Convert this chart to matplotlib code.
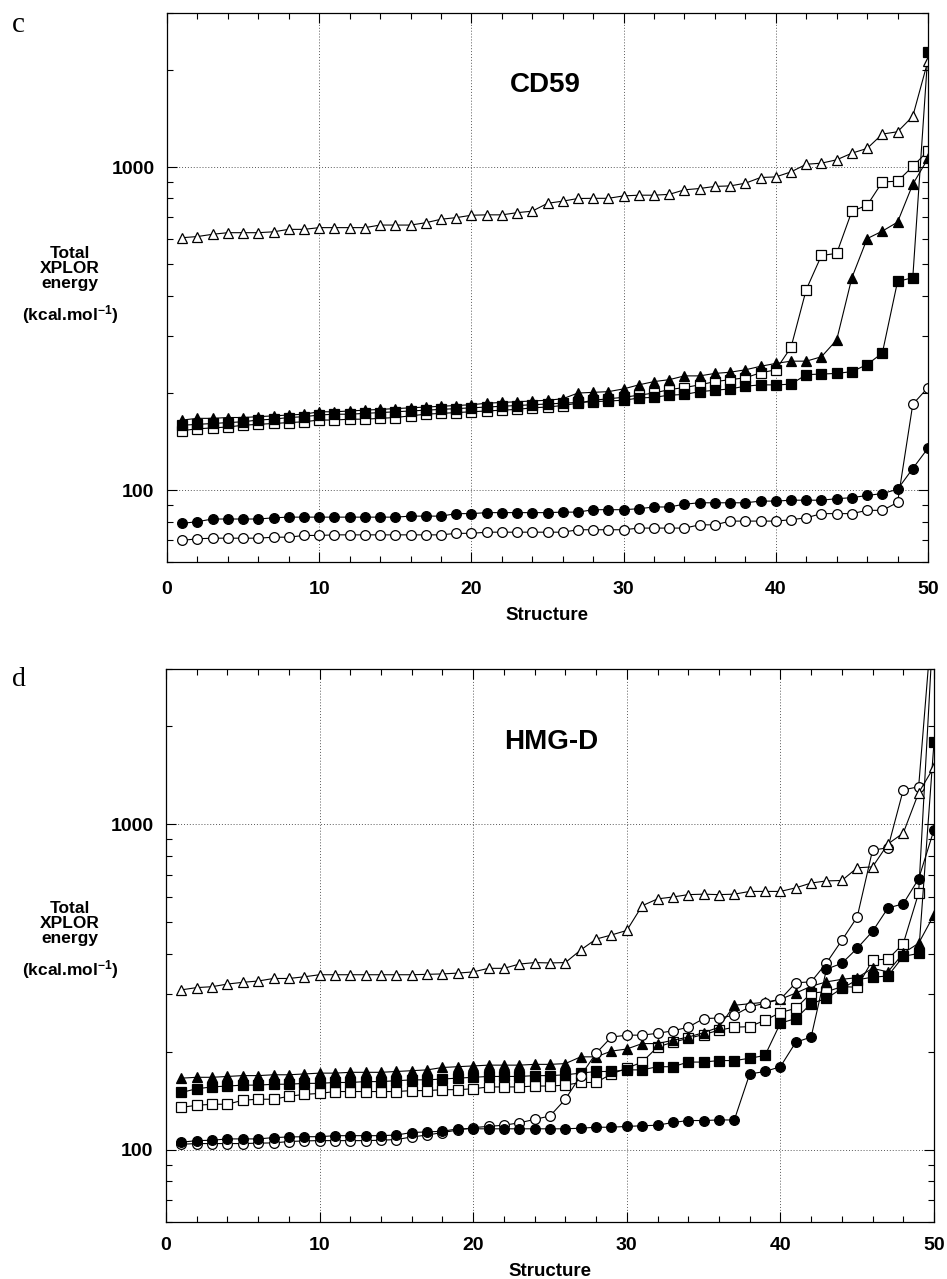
import numpy as np
import matplotlib
matplotlib.use('Agg')
import matplotlib.pyplot as plt
from matplotlib.ticker import FixedLocator, LogLocator, NullFormatter, FixedFormatter

plt.rcParams['font.family'] = ['Liberation Sans', 'DejaVu Sans']
plt.rcParams['font.weight'] = 'bold'
plt.rcParams['mathtext.fontset'] = 'custom'
plt.rcParams['mathtext.rm'] = 'Liberation Sans:bold'
plt.rcParams['mathtext.it'] = 'Liberation Sans:bold'

structure = np.arange(1, 51)

# ---- panel c: CD59 ----
cd59_open_tri = [605, 610, 620, 627, 627, 627, 631, 642, 642, 650,
                 650, 650, 650, 662, 662, 662, 673, 690, 698, 710,
                 712, 712, 723, 731, 773, 785, 800, 801, 801, 815,
                 819, 819, 824, 851, 859, 872, 875, 892, 929, 933,
                 967, 1021, 1029, 1054, 1105, 1143, 1266, 1287, 1437, 2138]
cd59_fill_tri = [165, 167, 167, 168, 168, 169, 170, 171, 172, 175,
                 175, 176, 177, 178, 179, 180, 181, 182, 183, 184,
                 186, 187, 188, 189, 190, 192, 200, 201, 202, 206,
                 212, 217, 220, 226, 226, 230, 232, 236, 242, 247,
                 251, 251, 259, 292, 455, 601, 634, 676, 885, 1064]
cd59_open_sq = [153, 155, 156, 157, 159, 160, 161, 162, 163, 165,
                165, 166, 166, 167, 168, 170, 172, 173, 174, 175,
                176, 177, 178, 180, 181, 183, 186, 190, 192, 194,
                197, 200, 205, 208, 212, 217, 220, 223, 231, 236,
                277, 418, 533, 541, 731, 762, 900, 905, 1005, 1124]
cd59_fill_sq = [159, 160, 161, 162, 163, 165, 166, 168, 169, 171,
                172, 172, 173, 174, 175, 176, 177, 178, 179, 180,
                181, 182, 183, 184, 185, 186, 187, 188, 189, 190,
                193, 194, 197, 198, 202, 204, 206, 210, 212, 212,
                213, 228, 229, 230, 233, 245, 266, 443, 455, 2270]
cd59_fill_circ = [79, 80, 81.5, 81.5, 81.5, 81.5, 82.2, 82.6, 82.6, 82.6,
                  82.6, 82.6, 82.6, 82.6, 82.6, 83.2, 83.2, 83.2, 84.7, 84.7,
                  85.3, 85.3, 85.3, 85.3, 85.3, 85.6, 85.6, 87.1, 87.1, 87.1,
                  87.7, 88.8, 88.8, 90.6, 91.5, 91.5, 91.5, 91.5, 92.6, 92.6,
                  93.2, 93.2, 93.2, 94.2, 94.9, 96.4, 97.7, 100.7, 116.8, 135]
cd59_open_circ = [70, 70.8, 71.1, 71.1, 71.1, 71.1, 71.6, 71.6, 72.5, 72.5,
                  72.8, 72.8, 72.8, 72.8, 72.8, 72.8, 72.8, 72.8, 73.6, 73.6,
                  74.2, 74.2, 74.2, 74.2, 74.2, 74.2, 75.5, 75.5, 75.5, 75.5,
                  76.4, 76.4, 76.4, 76.4, 78.2, 78.2, 80.3, 80.3, 80.3, 80.3,
                  81.1, 82.2, 84.7, 84.7, 84.7, 86.7, 86.7, 91.7, 184.6, 208]

# ---- panel d: HMG-D ----
hmgd_open_tri = [310, 315, 317, 323, 327, 330, 336, 336, 340, 345,
                 345, 345, 345, 345, 345, 345, 346, 347, 349, 352,
                 361, 361, 372, 376, 375, 376, 411, 444, 457, 472,
                 562, 590, 598, 608, 610, 608, 610, 622, 622, 622,
                 638, 660, 670, 672, 735, 740, 870, 940, 1250, 1500]
hmgd_fill_tri = [166, 167, 167, 168, 169, 169, 170, 170, 171, 172,
                 172, 173, 173, 173, 174, 175, 176, 179, 180, 181,
                 182, 182, 182, 183, 183, 184, 193, 193, 201, 204,
                 212, 212, 217, 222, 229, 238, 278, 281, 284, 290,
                 303, 318, 328, 334, 338, 361, 352, 402, 431, 527]
hmgd_open_sq = [135, 137, 138, 138, 142, 143, 143, 146, 148, 149,
                151, 151, 151, 151, 151, 152, 152, 153, 153, 154,
                156, 156, 156, 157, 157, 158, 161, 161, 171, 178,
                186, 207, 214, 220, 226, 233, 238, 239, 250, 264,
                272, 303, 306, 317, 316, 383, 385, 430, 615, 4500]
hmgd_fill_sq = [150, 154, 156, 157, 158, 158, 159, 159, 160, 160,
                161, 161, 162, 162, 163, 164, 164, 165, 166, 167,
                168, 168, 168, 169, 169, 170, 172, 174, 174, 176,
                176, 180, 180, 186, 186, 188, 188, 191, 195, 245,
                253, 281, 292, 313, 333, 339, 342, 393, 401, 1787]
hmgd_fill_circ = [105.5, 106.7, 107, 108, 108, 108, 109, 109.5, 109.7, 109.7,
                  110.5, 110.5, 110.5, 110.5, 111, 113, 113.5, 114, 116, 116,
                  116, 116, 116, 116, 116, 116, 116.5, 117.3, 117.3, 118,
                  118.5, 119, 121.3, 123, 123, 123.5, 123.5, 171, 174, 180,
                  214, 222, 359, 374, 416, 469, 553, 570, 680, 962]
hmgd_open_circ = [104, 104.5, 104.5, 104.5, 104.5, 104.8, 105, 106, 106.5, 106.7,
                  106.7, 106.7, 106.7, 107, 107.5, 109.5, 111, 113, 115, 117,
                  118, 119, 121, 124, 127, 143, 169, 198, 222, 225,
                  225, 228, 232, 238, 253, 254, 259, 275, 282, 290,
                  326, 328, 375, 440, 519, 833, 847, 1276, 1304, 5000]

W, H = 947, 1279


def px_axes(left, top, right, bottom):
    return [left / W, 1 - bottom / H, (right - left) / W, (bottom - top) / H]


def style_axes(ax, pad_x):
    ax.set_yscale('log')
    ax.set_xlim(0, 50)
    ax.set_ylim(60, 3000)
    ax.xaxis.set_major_locator(FixedLocator([0, 10, 20, 30, 40, 50]))
    ax.xaxis.set_minor_locator(FixedLocator(np.arange(0, 51, 2)))
    ax.yaxis.set_major_locator(FixedLocator([100, 1000]))
    ax.yaxis.set_major_formatter(FixedFormatter(['100', '1000']))
    ax.yaxis.set_minor_locator(LogLocator(base=10, subs=np.arange(2, 10)))
    ax.yaxis.set_minor_formatter(NullFormatter())
    ax.tick_params(which='both', direction='in', top=True, right=True,
                   width=0.8, labelsize=14)
    ax.tick_params(which='major', length=7)
    ax.tick_params(which='minor', length=4)
    ax.tick_params(axis='x', pad=pad_x)
    ax.tick_params(axis='y', pad=9)
    for lab in ax.get_xticklabels() + ax.get_yticklabels():
        lab.set_fontweight('bold')
    ax.grid(True, which='major', linestyle=(0, (1, 2)), color='0.35',
            linewidth=0.7)
    for sp in ax.spines.values():
        sp.set_linewidth(0.9)


def draw_series(ax, series):
    marker_map = {'tri': '^', 'sq': 's', 'circ': 'o'}
    for values, shape, filled in series:
        ax.plot(structure, values, color='black', linewidth=0.8,
                marker=marker_map[shape], markersize=7 if shape != 'tri' else 7.5,
                markerfacecolor='black' if filled else 'white',
                markeredgecolor='black', markeredgewidth=0.9)


fig = plt.figure(figsize=(W / 100, H / 100), dpi=100)
fig.patch.set_facecolor('white')

ax1 = fig.add_axes(px_axes(167, 13, 928, 562))
draw_series(ax1, [
    (cd59_open_circ, 'circ', False),
    (cd59_fill_circ, 'circ', True),
    (cd59_open_sq, 'sq', False),
    (cd59_fill_sq, 'sq', True),
    (cd59_fill_tri, 'tri', True),
    (cd59_open_tri, 'tri', False),
])
style_axes(ax1, 14)

ax2 = fig.add_axes(px_axes(166, 669, 934, 1222))
draw_series(ax2, [
    (hmgd_open_sq, 'sq', False),
    (hmgd_fill_sq, 'sq', True),
    (hmgd_fill_tri, 'tri', True),
    (hmgd_open_circ, 'circ', False),
    (hmgd_fill_circ, 'circ', True),
    (hmgd_open_tri, 'tri', False),
])
style_axes(ax2, 11)


def ftext(x, y, s, **kw):
    fig.text(x / W, 1 - y / H, s, **kw)


# panel letters
ftext(18, 25, 'c', fontsize=21, family='Liberation Serif', fontweight='normal',
      ha='center', va='center')
ftext(19, 679, 'd', fontsize=20, family='Liberation Serif', fontweight='normal',
      ha='center', va='center')

# in-plot titles
ftext(545, 85, 'CD59', fontsize=20, fontweight='bold', ha='center', va='center')
ftext(551, 742, 'HMG-D', fontsize=20, fontweight='bold', ha='center', va='center')

# y-axis labels
for ytop in (246, 901):
    ftext(70, ytop, 'Total\nXPLOR\nenergy', fontsize=12.5, fontweight='bold',
          ha='center', va='top', linespacing=1.02, multialignment='center')
    ftext(70, ytop + 69, r'(kcal.mol$^{-1}$)', fontsize=12.5, fontweight='bold',
          ha='center', va='center')

# x-axis labels
ftext(547, 616, 'Structure', fontsize=13.5, fontweight='bold', ha='center', va='center')
ftext(550, 1271, 'Structure', fontsize=13.5, fontweight='bold', ha='center', va='center')

fig.savefig('out.png', dpi=100, facecolor='white')
